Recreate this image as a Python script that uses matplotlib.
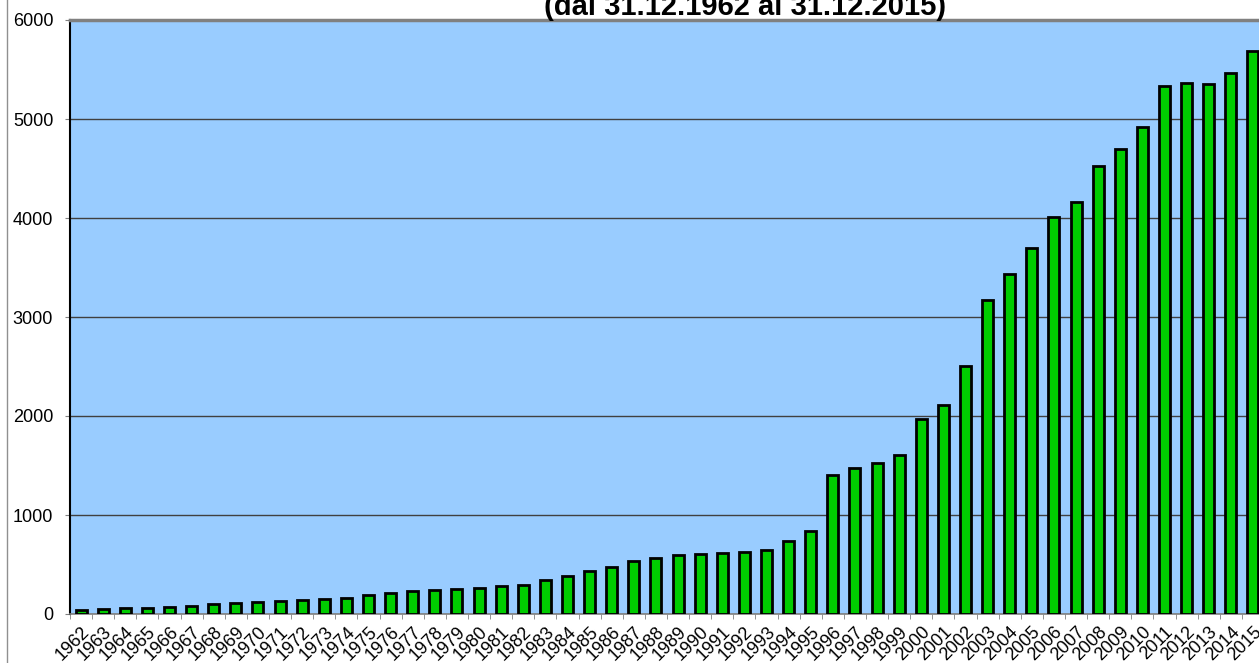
import matplotlib
matplotlib.use('Agg')
import matplotlib.pyplot as plt
from matplotlib.lines import Line2D
import numpy as np

plt.rcParams['font.family'] = ['Liberation Sans', 'DejaVu Sans']

years = list(range(1962, 2016))
values = [37, 47, 57, 61, 74, 84, 98, 114, 125, 128,
          141, 152, 162, 195, 209, 232, 246, 256, 266, 283,
          296, 347, 384, 431, 478, 539, 569, 596, 603, 616,
          630, 643, 734, 838, 1407, 1475, 1525, 1606, 1970, 2111,
          2502, 3175, 3434, 3697, 4010, 4165, 4522, 4697, 4923, 5330,
          5367, 5357, 5461, 5687]
y_ticks = [0, 1000, 2000, 3000, 4000, 5000, 6000]
title = '(dal 31.12.1962 al 31.12.2015)'

W, H = 1259, 663
fig = plt.figure(figsize=(W / 100, H / 100), dpi=100)
ax = fig.add_axes([70 / W, 49 / H, 1194 / W, 594 / H])

x = np.arange(len(years))
ax.set_facecolor('#99CCFF')
ax.bar(x, values, width=0.5, color='#00CC00', edgecolor='black', linewidth=2, zorder=3)

ax.set_xlim(-0.5, len(years) - 0.5)
ax.set_ylim(0, 6000)
ax.set_yticks(y_ticks)
ax.set_yticklabels([str(v) for v in y_ticks], fontsize=13)
ax.yaxis.grid(True, color='#404040', linewidth=1.0, zorder=0)
ax.set_axisbelow(True)

# labels on the bar centres, tick marks on the boundaries
ax.set_xticks(x)
ax.set_xticklabels([str(y) for y in years], fontsize=13, rotation=45,
                   ha='right', va='top', rotation_mode='anchor')
ax.set_xticks(np.arange(len(years) + 1) - 0.5, minor=True)
ax.tick_params(axis='x', which='major', length=0, pad=7)
ax.tick_params(axis='x', which='minor', length=3.6, color='#808080', direction='out')
ax.tick_params(axis='y', length=3.6, color='#808080', direction='out', pad=8.5)

ax.spines['left'].set_color('black')
ax.spines['left'].set_linewidth(1.5)
ax.spines['top'].set_color('#808080')
ax.spines['top'].set_linewidth(2.5)
ax.spines['bottom'].set_color('#808080')
ax.spines['bottom'].set_linewidth(1.2)
ax.spines['right'].set_visible(False)

fig.text(745 / W, 1 - 15 / H, title, ha='center', va='baseline',
         fontsize=21, fontweight='bold')
fig.add_artist(Line2D([7 / W, 7 / W], [0, 1], transform=fig.transFigure,
                      color='#909090', linewidth=1))

fig.savefig('out.png', dpi=100)
